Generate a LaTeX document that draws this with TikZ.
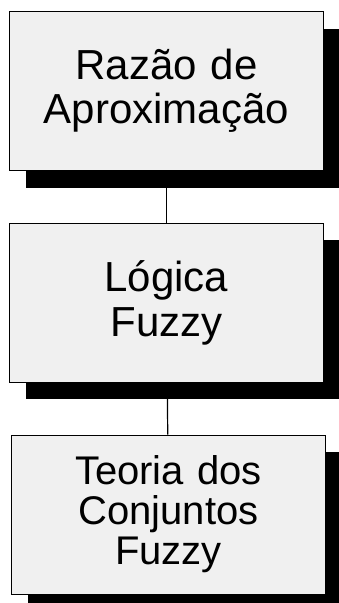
\documentclass[tikz,border=0pt]{standalone}
\usepackage{fontspec}
\setmainfont{Liberation Sans}
\usetikzlibrary{positioning, shadows}

\begin{document}
\begin{tikzpicture}[node distance=52pt,
    box/.style={draw, line width=0.8pt, fill=black!6, align=center, text width=300pt,
        minimum width=314pt, minimum height=159pt, inner sep=0pt,
        drop shadow={shadow xshift=16pt, shadow yshift=-17pt, fill=black, opacity=1}},
    link/.style={line width=1.2pt}]
    \useasboundingbox (0,0) rectangle (338pt,-603pt);

    \node (razao) [box, font=\fontsize{42}{44}\selectfont] at (166.5pt,-91pt) {Razão de\\Aproximação};
    \node (logica) [box, font=\fontsize{42}{45}\selectfont, below=of razao] {Lógica\\Fuzzy};
    \node (teoria) [box, font=\fontsize{40}{40}\selectfont, below=of logica, xshift=2pt] {Teoria dos\\Conjuntos\\Fuzzy};

    \draw[link] (razao) -- (logica);
    \draw[link] (logica) -- (teoria);
\end{tikzpicture}
\end{document}
